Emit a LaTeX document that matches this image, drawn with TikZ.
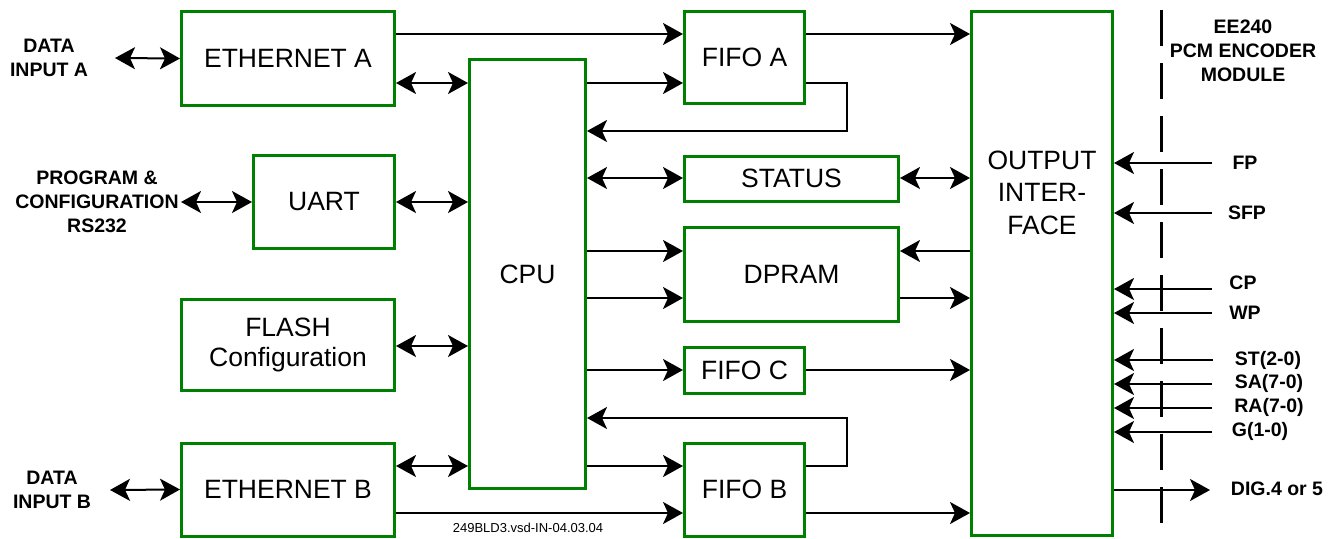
\documentclass[tikz,border=0pt]{standalone}
\usepackage{fontspec}
\setmainfont{Liberation Sans}
\usetikzlibrary{arrows.meta}
\definecolor{boxgreen}{RGB}{0,128,0}
\begin{document}
\begin{tikzpicture}[x=1pt,y=-1pt,
  box/.style={draw=boxgreen, line width=3pt, fill=white, inner sep=0pt, align=center, font=\fontsize{26.5}{32}\selectfont},
  conn/.style={line width=2pt, draw=black},
  tip/.tip={Stealth[length=20pt,width=22pt,inset=5pt]},
  arr/.style={conn, -tip},
  biarr/.style={conn, tip-tip},
  lbl/.style={font=\bfseries\fontsize{19.5}{24}\selectfont, align=center, inner sep=0pt},
  sep/.style={line width=3pt, draw=black, dash pattern=on 36pt off 17pt},
]
\useasboundingbox (0,0) rectangle (1338,538);

% boxes
\node[box, minimum width=213pt, minimum height=94pt] (ethA) at (288,58.5) {ETHERNET A};
\node[box, minimum width=120pt, minimum height=92pt] (fifoA) at (744.5,57.5) {FIFO A};
\node[box, minimum width=141pt, minimum height=524pt] (out) at (1042,273.5) {};
\node[font=\fontsize{26.5}{32.5}\selectfont, align=center, inner sep=0pt] (outtxt) at (1042,192.5) {OUTPUT\\INTER-\\FACE};
\node[box, minimum width=116pt, minimum height=429pt] (cpu) at (527.5,274) {CPU};
\node[box, minimum width=141pt, minimum height=93pt] (uart) at (324,202) {UART};
\node[box, minimum width=214pt, minimum height=45pt] (status) at (791.5,178.5) {STATUS};
\node[box, minimum width=214pt, minimum height=94pt] (dpram) at (791.5,274) {DPRAM};
\node[box, minimum width=213pt, minimum height=91pt, font=\fontsize{26.5}{30}\selectfont] (flash) at (288,345) {FLASH\\Configuration};
\node[box, minimum width=120pt, minimum height=46pt] (fifoC) at (744.5,370) {FIFO C};
\node[box, minimum width=120pt, minimum height=93pt] (fifoB) at (744.5,489.5) {FIFO B};
\node[box, minimum width=213pt, minimum height=93pt] (ethB) at (288,489.5) {ETHERNET B};

% left labels
\node[lbl] (dinA) at (49,58) {DATA\\INPUT A};
\node[lbl] (prog) at (97,202) {PROGRAM \&\\CONFIGURATION\\RS232};
\node[lbl] (dinB) at (52,490) {DATA\\INPUT B};
\coordinate (dinAe) at (115,58);
\coordinate (proge) at (181,202);
\coordinate (dinBe) at (110,490);

% left connectors
\draw[biarr] (dinAe) -- (ethA.west);
\draw[biarr] (proge) -- (uart.west);
\draw[biarr] (dinBe) -- (ethB.west);

% connectors around CPU
\draw[arr] (ethA.east |- 0,34) -- (fifoA.west |- 0,34);
\draw[biarr] (ethA.east |- 0,83) -- (cpu.west |- 0,83);
\draw[arr] (cpu.east |- 0,83) -- (fifoA.west |- 0,83);
\draw[arr] (fifoA.east |- 0,34) -- (out.west |- 0,34);
\draw[arr] (fifoA.east |- 0,83) -- (847,83) -- (847,131) -- (cpu.east |- 0,131);
\draw[biarr] (cpu.east |- 0,178) -- (status.west |- 0,178);
\draw[biarr] (status.east |- 0,178) -- (out.west |- 0,178);
\draw[biarr] (uart.east |- 0,202) -- (cpu.west |- 0,202);
\draw[arr] (cpu.east |- 0,251) -- (dpram.west |- 0,251);
\draw[arr] (cpu.east |- 0,298) -- (dpram.west |- 0,298);
\draw[arr] (out.west |- 0,251) -- (dpram.east |- 0,251);
\draw[arr] (dpram.east |- 0,298) -- (out.west |- 0,298);
\draw[biarr] (flash.east |- 0,346) -- (cpu.west |- 0,346);
\draw[arr] (cpu.east |- 0,370) -- (fifoC.west |- 0,370);
\draw[arr] (fifoC.east |- 0,370) -- (out.west |- 0,370);
\draw[arr] (fifoB.east |- 0,466) -- (847,466) -- (847,418) -- (cpu.east |- 0,418);
\draw[arr] (cpu.east |- 0,466) -- (fifoB.west |- 0,466);
\draw[biarr] (ethB.east |- 0,466) -- (cpu.west |- 0,466);
\draw[arr] (ethB.east |- 0,513) -- (fifoB.west |- 0,513);
\draw[arr] (fifoB.east |- 0,513) -- (out.west |- 0,513);

\node[font=\fontsize{13}{15}\selectfont, inner sep=0pt] (foot) at (528,528) {249BLD3.vsd-IN-04.03.04};

% module boundary
\coordinate (sepT) at (1161,10);
\coordinate (sepB) at (1161,523);
\draw[sep] (sepT) -- (sepB);
\node[lbl] (mod) at (1243,51) {EE240\\PCM ENCODER\\MODULE};

% right signals
\coordinate (fp) at (1212,163);
\coordinate (sfp) at (1212,213);
\coordinate (cp) at (1212,289);
\coordinate (wp) at (1212,313);
\coordinate (st) at (1213,360);
\coordinate (sa) at (1212,384);
\coordinate (ra) at (1212,408);
\coordinate (g) at (1212,432);
\coordinate (dig) at (1210,490);
\foreach \c in {fp,sfp,cp,wp,st,sa,ra,g}
  \draw[arr] (\c) -- (out.east |- \c);
\draw[arr] (out.east |- dig) -- (dig);

\node[lbl] (fpl) at (1245,163) {FP};
\node[lbl] (sfpl) at (1247,213) {SFP};
\node[lbl] (cpl) at (1243,283) {CP};
\node[lbl] (wpl) at (1245,313) {WP};
\node[lbl] (stl) at (1268,360) {ST(2-0)};
\node[lbl] (sal) at (1269,383) {SA(7-0)};
\node[lbl] (ral) at (1269,407) {RA(7-0)};
\node[lbl] (gl) at (1260,431) {G(1-0)};
\node[lbl] (digl) at (1277,489) {DIG.4 or 5};
\end{tikzpicture}
\end{document}
